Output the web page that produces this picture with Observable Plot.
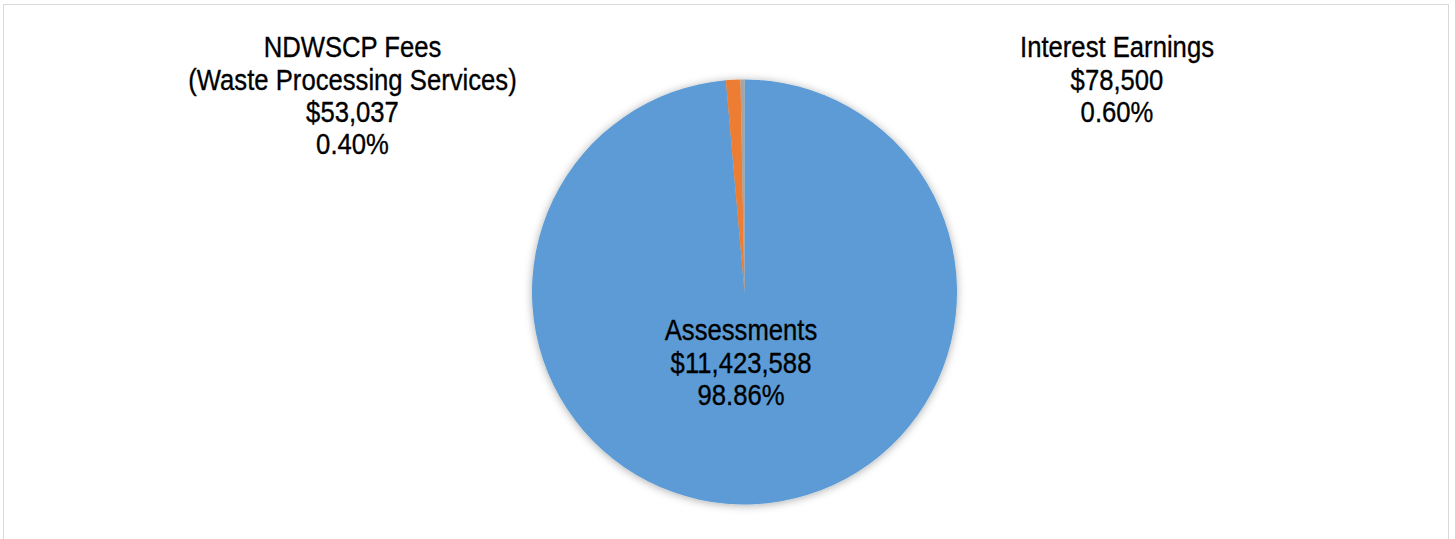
<!DOCTYPE html>
<html>
<head>
<meta charset="utf-8">
<script src="https://cdn.jsdelivr.net/npm/d3@7"></script>
<script src="https://cdn.jsdelivr.net/npm/@observablehq/plot@0.6"></script>
<style>
  html, body { margin: 0; padding: 0; background: #fff; }
  #wrap { position: relative; width: 1455px; height: 539px; overflow: hidden; }
  #frame { position: absolute; left: 3px; top: 4px; width: 1446px; height: 560px;
           border: 1.5px solid #d9d9d9; box-sizing: border-box; }
  #chart { position: absolute; left: 0; top: 0; }
</style>
</head>
<body>
<div id="wrap"><div id="frame"></div><div id="chart"></div></div>
<script>
// ---- data ----
const categories = ["Assessments", "Interest Earnings", "NDWSCP Fees"];
const subLabels = ["", "", "(Waste Processing Services)"];
const amounts = [11423588, 78500, 53037];
const percentLabels = ["98.86%", "0.60%", "0.40%"];
// slice shares as drawn in the picture (percent of the circle)
const sliceShares = [98.6, 1.1, 0.3];
const colors = ["#5B9BD5", "#ED7D31", "#A5A5A5"];

// ---- layout ----
const W = 1455, H = 539;
const center = {x: 744.5, y: 292};
const radius = 212.5;
const labelAnchors = [
  {x: 740.5, y: 316.5},
  {x: 1116.5, y: 33.5},
  {x: 352, y: 33.5}
];

const slices = categories.map((c, i) => ({
  name: c, share: sliceShares[i], color: colors[i]
}));

const fmt = d3.format("$,");
const labels = categories.map((c, i) => ({
  text: [c, subLabels[i], fmt(amounts[i]), percentLabels[i]].filter(s => s).join("\n"),
  x: labelAnchors[i].x,
  y: labelAnchors[i].y
}));

function pieMark(index, scales) {
  const g = d3.create("svg:g");
  const defs = g.append("defs");
  const f = defs.append("filter").attr("id", "pieShadow")
    .attr("x", "-20%").attr("y", "-20%").attr("width", "140%").attr("height", "140%");
  f.append("feDropShadow").attr("dx", 0).attr("dy", 1).attr("stdDeviation", 4)
    .attr("flood-color", "#000").attr("flood-opacity", 0.33);
  const cx = scales.x(center.x), cy = scales.y(center.y);
  const r = scales.x(center.x + radius) - cx;
  const arcs = d3.pie().sort(null).value(d => d.share)(slices);
  const arc = d3.arc().innerRadius(0).outerRadius(r);
  const pg = g.append("g").attr("transform", `translate(${cx},${cy})`)
    .attr("filter", "url(#pieShadow)");
  pg.selectAll("path").data(arcs).join("path")
    .attr("d", arc)
    .attr("fill", d => d.data.color);
  return g.node();
}

const chart = Plot.plot({
  width: W,
  height: H,
  margin: 0,
  x: {domain: [0, W], range: [0, W], axis: null},
  y: {domain: [0, H], range: [0, H], axis: null},
  style: {background: "transparent", overflow: "visible"},
  marks: [
    pieMark,
    Plot.text(labels, {
      x: "x", y: "y", text: "text",
      lineAnchor: "top",
      lineHeight: 1.12,
      fontSize: 29,
      fill: "#000",
      stroke: "#000",
      strokeWidth: 0.35,
      fontFamily: "'Liberation Sans', Arial, sans-serif",
      className: "narrow-label"
    })
  ]
});
// emulate a narrow face by compressing the glyphs horizontally
d3.select(chart).selectAll(".narrow-label text").each(function() {
  const t = this.getAttribute("transform") || "";
  this.setAttribute("transform", t + " scale(0.885,1)");
});
document.getElementById("chart").appendChild(chart);
</script>
</body>
</html>
